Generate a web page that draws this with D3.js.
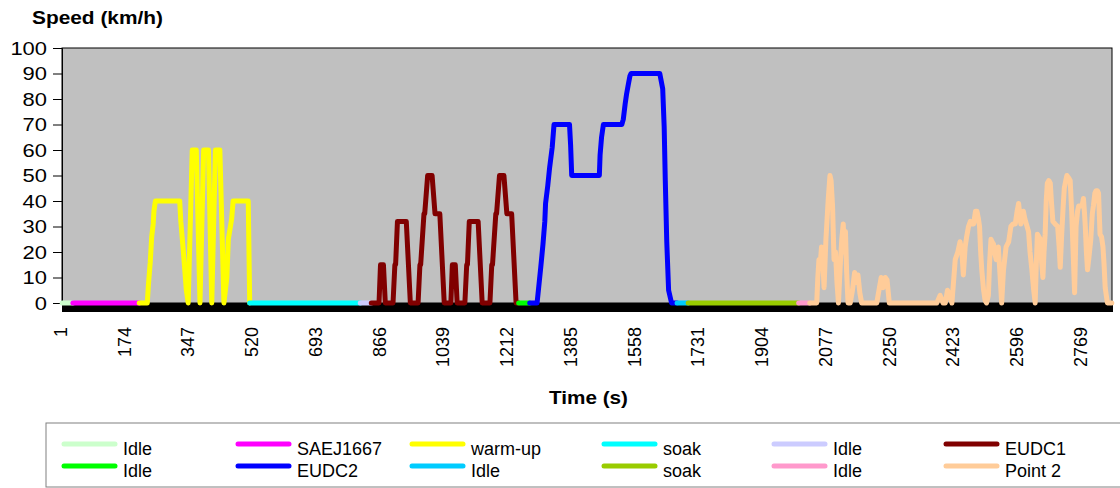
<!DOCTYPE html>
<html>
<head>
<meta charset="utf-8">
<script src="https://cdn.jsdelivr.net/npm/d3@7"></script>
<style>
  body { margin: 0; background: #fff; }
  text { font-family: "Liberation Sans", Arial, sans-serif; fill: #000; }
</style>
</head>
<body>
<div id="chart"></div>
<script>
// categories: one per second of the test
const nCats = 2850;
const xTickLabels = d3.range(1, nCats, 173);
const yTicks = d3.range(0, 101, 10);

// series values, [time (s), speed (km/h)]
const idleA = [[1, 0], [30, 0]];
const saej1667 = [[30, 0], [210, 0]];
const warmUp = [[210, 0], [232, 0], [235, 7], [240, 16], [244, 26], [248, 31], [250, 36], [254, 40],
  [320, 40], [323, 32], [330, 20], [338, 5], [343, 0], [354, 60], [365, 60], [375, 0], [385, 60],
  [398, 60], [407, 0], [417, 60], [429, 60], [440, 0], [448, 10], [452, 25], [461, 33], [465, 40],
  [506, 40], [510, 0]];
const soakA = [[510, 0], [810, 0]];
const idleB = [[810, 0], [840, 0]];
const eudc1 = [[840, 0], [861, 0], [865, 15], [873, 15], [878, 0], [899, 0], [904, 15], [906, 15],
  [911, 32], [935, 32], [946, 0], [967, 0], [972, 15], [974, 15], [983, 35], [985, 35], [993, 50],
  [1005, 50], [1013, 35], [1026, 35], [1038, 0], [1056, 0], [1060, 15], [1068, 15], [1073, 0],
  [1094, 0], [1099, 15], [1101, 15], [1106, 32], [1130, 32], [1141, 0], [1162, 0], [1167, 15],
  [1169, 15], [1178, 35], [1180, 35], [1188, 50], [1200, 50], [1208, 35], [1221, 35], [1233, 0],
  [1240, 0]];
const idleC = [[1240, 0], [1270, 0]];
const eudc2 = [[1270, 0], [1290, 0], [1300, 14], [1306, 23], [1311, 32], [1313, 39], [1319, 46],
  [1324, 53], [1331, 61], [1336, 70], [1378, 70], [1381, 62], [1384, 50], [1459, 50], [1461, 58],
  [1465, 65], [1470, 70], [1520, 70], [1524, 72], [1529, 78], [1533, 82], [1538, 86], [1542, 89],
  [1545, 90], [1623, 90], [1631, 84], [1635, 69], [1638, 48], [1642, 24], [1647, 5], [1655, 0],
  [1670, 0]];
const idleD = [[1670, 0], [1700, 0]];
const soakB = [[1700, 0], [2000, 0]];
const idleE = [[2000, 0], [2030, 0]];
const point2 = [[2030, 0], [2049, 0], [2052, 10], [2055, 17], [2058, 14], [2062, 22], [2066, 15],
  [2069, 6], [2074, 25], [2080, 40], [2085, 50], [2088, 48], [2092, 38], [2096, 17], [2100, 20],
  [2104, 8], [2108, 0], [2113, 15], [2117, 25], [2121, 31], [2124, 20], [2127, 28], [2130, 13],
  [2134, 0], [2140, 0], [2146, 5], [2152, 12], [2156, 8], [2161, 11], [2166, 4], [2171, 0],
  [2212, 0], [2218, 5], [2224, 10], [2229, 6], [2235, 10], [2240, 9], [2246, 0], [2375, 0],
  [2384, 3], [2392, 0], [2398, 0], [2404, 5], [2410, 3], [2416, 0], [2425, 17], [2432, 20],
  [2438, 24], [2443, 20], [2447, 11], [2452, 22], [2456, 26], [2461, 30], [2466, 32], [2470, 31],
  [2475, 31], [2480, 36], [2484, 36], [2488, 33], [2491, 30], [2494, 20], [2497, 13], [2502, 5],
  [2506, 1], [2510, 0], [2515, 3], [2518, 15], [2522, 25], [2525, 24], [2529, 23], [2532, 20],
  [2536, 17], [2540, 20], [2542, 22], [2547, 10], [2551, 0], [2556, 13], [2563, 22], [2570, 24],
  [2576, 30], [2582, 31], [2588, 31], [2593, 36], [2597, 39], [2600, 35], [2603, 31], [2607, 34],
  [2610, 36], [2614, 33], [2618, 31], [2624, 28], [2628, 20], [2633, 13], [2638, 5], [2642, 0],
  [2645, 15], [2648, 27], [2652, 26], [2656, 25], [2660, 15], [2663, 10], [2666, 20], [2669, 27],
  [2672, 40], [2675, 47], [2679, 48], [2683, 47], [2686, 40], [2690, 32], [2696, 31], [2703, 30],
  [2707, 22], [2710, 14], [2714, 27], [2718, 38], [2721, 45], [2725, 48], [2728, 50], [2733, 49],
  [2737, 48], [2741, 36], [2745, 20], [2749, 4], [2753, 30], [2757, 36], [2760, 38], [2769, 38],
  [2773, 41], [2776, 35], [2778, 30], [2781, 20], [2784, 13], [2788, 18], [2793, 25], [2797, 35],
  [2800, 38], [2804, 43], [2807, 44], [2811, 44], [2814, 43], [2816, 35], [2818, 27], [2822, 26],
  [2826, 22], [2829, 15], [2832, 6], [2838, 0], [2850, 0]];

const seriesNames = ['Idle', 'SAEJ1667', 'warm-up', 'soak', 'Idle', 'EUDC1',
  'Idle', 'EUDC2', 'Idle', 'soak', 'Idle', 'Point 2'];
const seriesColors = ['#ccffcc', '#ff00ff', '#ffff00', '#00ffff', '#ccccff', '#800000',
  '#00ff00', '#0000ff', '#00ccff', '#99cc00', '#ff99cc', '#ffcc99'];
const seriesData = [idleA, saej1667, warmUp, soakA, idleB, eudc1,
  idleC, eudc2, idleD, soakB, idleE, point2];

const width = 1120;
const height = 488;
const plot = {left: 62, right: 1112, top: 48, bottom: 303};
const lineWidth = 5;

const svg = d3.select('#chart').append('svg')
    .attr('width', width)
    .attr('height', height);

const x = d3.scaleLinear().domain([0.5, nCats + 0.5]).range([plot.left, plot.right]);
const y = d3.scaleLinear().domain([0, 100]).range([plot.bottom, plot.top]);

// plot area
svg.append('rect')
    .attr('x', plot.left)
    .attr('y', plot.top)
    .attr('width', plot.right - plot.left)
    .attr('height', plot.bottom - plot.top)
    .attr('fill', '#c0c0c0')
    .attr('stroke', '#000')
    .attr('stroke-width', 1);

// y axis
const yAxis = svg.append('g')
    .attr('transform', `translate(${plot.left},0)`)
    .call(d3.axisLeft(y).tickValues(yTicks).tickSize(9));
yAxis.select('.domain').attr('stroke', '#000');
yAxis.selectAll('.tick line').attr('stroke', '#000');
yAxis.selectAll('.tick text')
    .attr('font-size', '18px')
    .attr('font-family', '"Liberation Sans", Arial, sans-serif')
    .attr('x', 0)
    .attr('dy', '0.36em')
    .attr('transform', 'translate(-15,0) scale(1.22,1)');

// x axis: a tick mark for every category, labels every 173rd
const xAxisTicks = svg.append('g')
    .attr('transform', `translate(0,${plot.bottom})`)
    .call(d3.axisBottom(x).tickValues(d3.range(1, nCats + 1)).tickSize(9).tickFormat(''));
xAxisTicks.selectAll('.tick line').attr('stroke', '#000').attr('shape-rendering', 'crispEdges');
xAxisTicks.select('.domain').attr('stroke', '#000');

const xAxisLabels = svg.append('g')
    .attr('transform', `translate(0,${plot.bottom})`)
    .call(d3.axisBottom(x).tickValues(xTickLabels).tickSize(0).tickPadding(0).tickFormat(d3.format('d')));
xAxisLabels.select('.domain').remove();
xAxisLabels.selectAll('.tick text')
    .attr('font-size', '18px')
    .attr('font-family', '"Liberation Sans", Arial, sans-serif')
    .attr('text-anchor', 'end')
    .attr('transform', 'rotate(-90)')
    .attr('x', -24)
    .attr('y', -2)
    .attr('dy', '0.35em');

// series
const line = d3.line()
    .x(d => x(d[0]))
    .y(d => y(d[1]));

svg.append('g')
    .selectAll('path')
    .data(seriesData)
    .join('path')
    .attr('d', line)
    .attr('fill', 'none')
    .attr('stroke', (d, i) => seriesColors[i])
    .attr('stroke-width', lineWidth)
    .attr('stroke-linejoin', 'round')
    .attr('stroke-linecap', 'round');

// titles
svg.append('text')
    .attr('x', 32)
    .attr('y', 24)
    .attr('font-size', '19px')
    .attr('font-weight', 'bold')
    .attr('textLength', 131)
    .attr('lengthAdjust', 'spacingAndGlyphs')
    .text('Speed (km/h)');

svg.append('text')
    .attr('x', 549)
    .attr('y', 404)
    .attr('font-size', '19px')
    .attr('font-weight', 'bold')
    .attr('textLength', 79)
    .attr('lengthAdjust', 'spacingAndGlyphs')
    .text('Time (s)');

// legend
const legendCols = [62, 236, 410, 602, 772, 944];
const legendRows = [444, 466];
const legend = svg.append('g');
legend.append('rect')
    .attr('x', 46)
    .attr('y', 423)
    .attr('width', 1090)
    .attr('height', 64)
    .attr('fill', '#fff')
    .attr('stroke', '#808080')
    .attr('stroke-width', 1);

const items = legend.selectAll('g.item')
    .data(seriesNames)
    .join('g')
    .attr('class', 'item')
    .attr('transform', (d, i) => `translate(${legendCols[i % 6]},${legendRows[Math.floor(i / 6)]})`);

items.append('line')
    .attr('x1', 2)
    .attr('x2', 53)
    .attr('stroke', (d, i) => seriesColors[i])
    .attr('stroke-width', lineWidth)
    .attr('stroke-linecap', 'round');

items.append('text')
    .attr('x', 61)
    .attr('y', 11)
    .attr('font-size', '18px')
    .text(d => d);
</script>
</body>
</html>
